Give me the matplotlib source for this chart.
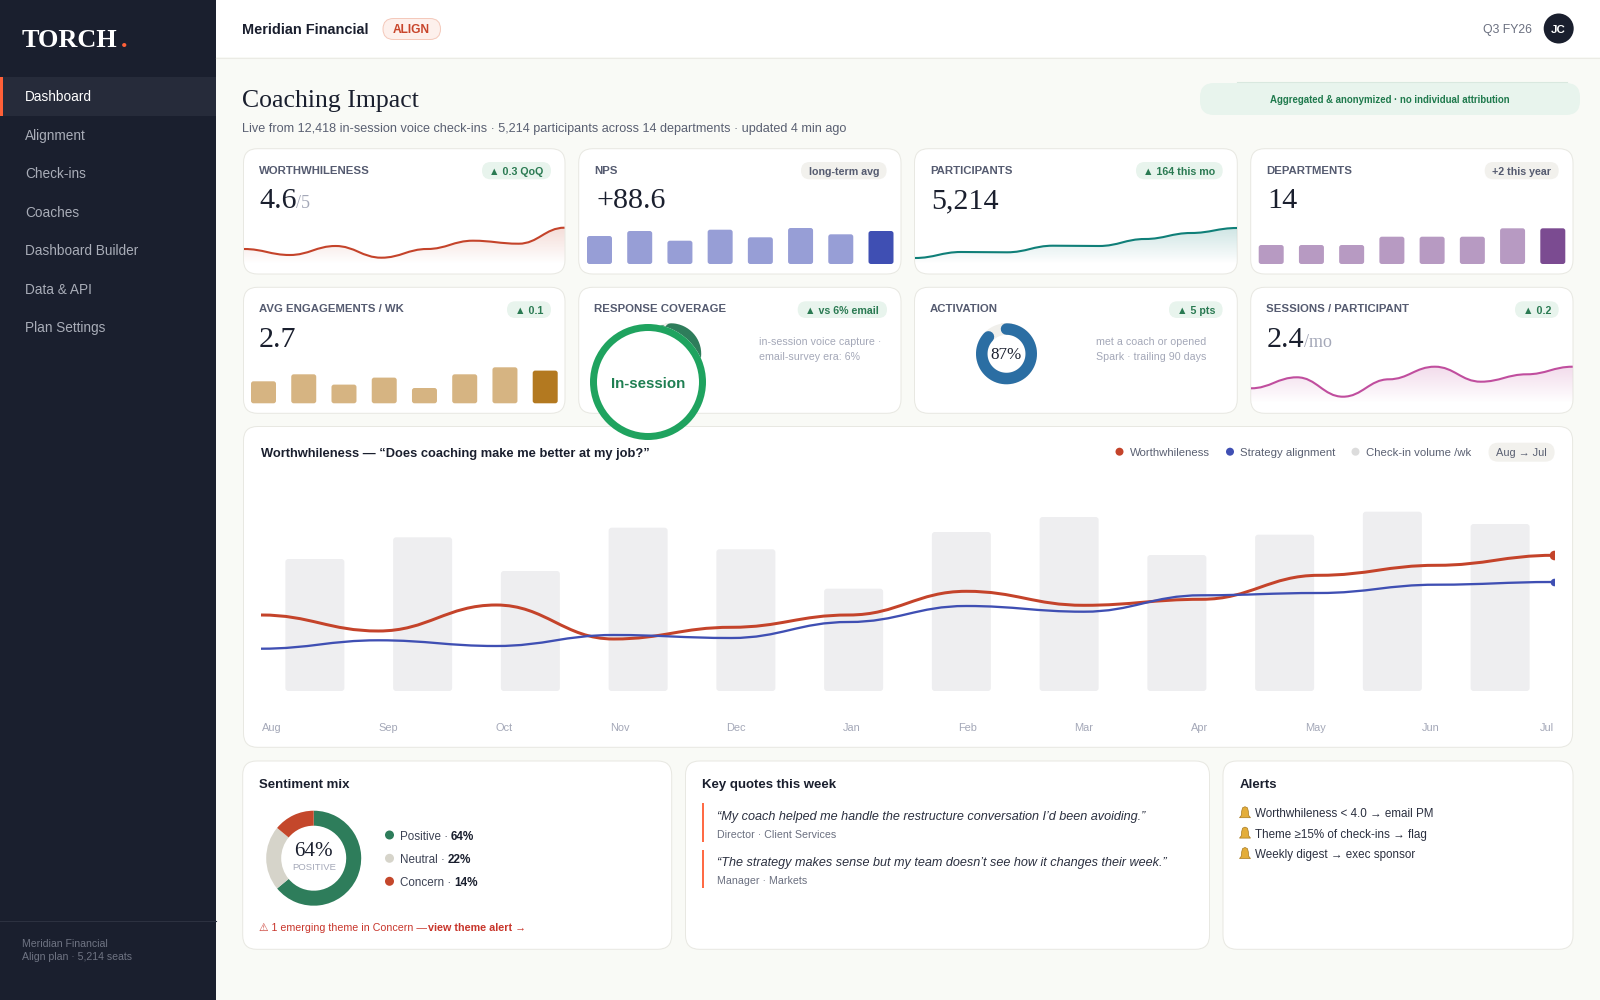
import numpy as np
import matplotlib
matplotlib.use("Agg")
import matplotlib.pyplot as plt
from matplotlib.patches import FancyBboxPatch, Circle, PathPatch, Rectangle
from matplotlib.path import Path
from matplotlib.colors import to_rgb
from matplotlib.transforms import Affine2D

plt.rcParams["text.hinting"] = "force_autohint"
plt.rcParams["text.hinting_factor"] = 8

# ---------- data ----------
NAV_ITEMS = ["Dashboard", "Alignment", "Check-ins", "Coaches", "Dashboard Builder", "Data & API", "Plan Settings"]
MONTHS = ["Aug", "Sep", "Oct", "Nov", "Dec", "Jan", "Feb", "Mar", "Apr", "May", "Jun", "Jul"]
VOLUME = [132, 153.7, 120, 163.3, 141.7, 102.3, 159, 174, 136, 156.3, 179.3, 167]
WORTH_TREND = [76, 60, 86, 52, 63.7, 76, 99.7, 85.7, 91.7, 115.7, 125.7, 135.7]
ALIGN_TREND = [42.3, 50.7, 45, 56, 53, 69, 85, 79.3, 95.7, 98, 106.3, 109]

SPARK_WORTH = [15, 9, 18, 6.3, 15, 23.3, 20.3, 36.3]
SPARK_PARTICIPANTS = [6, 12, 11.7, 18.3, 18, 25, 31, 36]
SPARK_SESSIONS = [15, 26, 6.6, 24, 36.6, 21.6, 29, 36.6]
BARS_NPS = [28, 33, 23.3, 34.3, 26.7, 36, 29.7, 33]
BARS_DEPTS = [19, 19, 19, 27.3, 27.3, 27.3, 35.7, 35.7]
BARS_ENGAGE = [22, 29, 18.7, 25.7, 15.3, 29, 36, 32.7]

COVERAGE = [94, 6]
ACTIVATION = [87, 13]
SENTIMENT_LABELS = ["Positive", "Neutral", "Concern"]
SENTIMENT = [64, 22, 14]
QUOTES = [("\u201cMy coach helped me handle the restructure conversation I\u2019d been avoiding.\u201d", "Director \u00b7 Client Services"),
          ("\u201cThe strategy makes sense but my team doesn\u2019t see how it changes their week.\u201d", "Manager \u00b7 Markets")]
ALERTS = ["Worthwhileness < 4.0 \u2192 email PM", "Theme \u226515% of check-ins \u2192 flag", "Weekly digest \u2192 exec sponsor"]

# ---------- style ----------
W, H = 1600, 1000
SANS = ["Liberation Sans", "DejaVu Sans"]
SERIF = ["Liberation Serif", "DejaVu Serif"]
INK = "#1a1f2e"; SLATE = "#555b70"; MUTED = "#6b7080"; FAINT = "#a4a8b8"
RED = "#c4432a"; BLUE = "#3f4fb3"; TEAL = "#0f7f78"; MAGENTA = "#c04e9e"; GREEN = "#2a7a52"
ACCENT = "#ff6038"; PILL_G = "#e8f4ed"; PILL_N = "#f2f1ed"; EDGE = "#e8e8e2"

fig = plt.figure(figsize=(16, 10), dpi=100, facecolor="#f9faf6")
cv = fig.add_axes([0, 0, 1, 1], zorder=0)
cv.set_xlim(0, W); cv.set_ylim(H, 0); cv.axis("off")
top = fig.add_axes([0, 0, 1, 1], zorder=8)
top.set_xlim(0, W); top.set_ylim(H, 0); top.axis("off"); top.patch.set_alpha(0)


def px_axes(x0, y0, x1, y1, z=2):
    ax = fig.add_axes([x0 / W, 1 - y1 / H, (x1 - x0) / W, (y1 - y0) / H], zorder=z)
    ax.axis("off"); ax.patch.set_alpha(0)
    return ax


def T(x, y, s, size, color=INK, weight="normal", ha="left", family=SANS, style="normal", ax=None, raise_=0.36):
    return (ax or cv).text(x, y + raise_ * size, s, fontsize=size * 0.72, color=color, fontweight=weight, ha=ha,
                           va="baseline", family=family, style=style)


def box(x0, y0, x1, y1, r, fc, ec="none", lw=1.0, ax=None, z=1):
    p = FancyBboxPatch((x0, y0), x1 - x0, y1 - y0, boxstyle=f"round,pad=0,rounding_size={r}", fc=fc, ec=ec,
                       lw=lw * 0.72, zorder=z)
    (ax or cv).add_patch(p)
    return p


def pill(x0, x1, y0, y1, s, good=True, size=10.6):
    box(x0, y0, x1, y1, (y1 - y0) / 2, PILL_G if good else PILL_N, z=2)
    T((x0 + x1) / 2, (y0 + y1) / 2 + 0.3, s, size, GREEN if good else SLATE, "bold", "center")


def smooth_path(xs, ys):
    """Cubic segments with level tangents at every reading."""
    verts = [(xs[0], ys[0])]; codes = [Path.MOVETO]
    for i in range(len(xs) - 1):
        k = (xs[i + 1] - xs[i]) * 0.42
        verts += [(xs[i] + k, ys[i]), (xs[i + 1] - k, ys[i + 1]), (xs[i + 1], ys[i + 1])]
        codes += [Path.CURVE4] * 3
    return verts, codes


def sparkline(x0, x1, base, values, color, alpha=0.20):
    ax = px_axes(x0, base - 44, x1, base)
    xs = np.arange(len(values))
    verts, codes = smooth_path(xs, values)
    area = Path(verts + [(xs[-1], 0), (xs[0], 0), (xs[0], values[0])],
                codes + [Path.LINETO, Path.LINETO, Path.CLOSEPOLY])
    rgb = to_rgb(color)
    grad = np.zeros((64, 2, 4)); grad[..., :3] = rgb
    grad[..., 3] = np.linspace(alpha, 0, 64)[:, None]
    im = ax.imshow(grad, extent=(xs[0], xs[-1], 0, 40), aspect="auto", origin="upper", zorder=1)
    im.set_clip_path(PathPatch(area, transform=ax.transData))
    ax.add_patch(PathPatch(Path(verts, codes), fc="none", ec=color, lw=1.5, capstyle="butt", zorder=2))
    ax.set_xlim(xs[0], xs[-1]); ax.set_ylim(0, 44)


def rounded_bars(ax, xs, hs, w, colors, r_px, x_per_px, y_per_px):
    for x, h, c in zip(xs, hs, colors):
        ax.add_patch(FancyBboxPatch((x - w / 2, 0), w, h, boxstyle=f"round,pad=0,rounding_size={r_px * x_per_px}",
                                    fc=c, ec="none", mutation_aspect=y_per_px / x_per_px, clip_on=False))


def mini_bars(x0, x1, base, values, light, dark):
    ax = px_axes(x0, base - 44, x1, base)
    n = len(values); width = x1 - x0
    pitch = (width - 25) / (n - 1)
    ax.set_xlim(-12.5 / pitch, n - 1 + 12.5 / pitch); ax.set_ylim(0, 44)
    rounded_bars(ax, np.arange(n), values, 25 / pitch, [light] * (n - 1) + [dark], 2.5, 1 / pitch, 1.0)


def arc_ring(cx, cy, r_outer, values, color, track, stroke, z=2):
    ax = px_axes(cx - r_outer - 4, cy - r_outer - 4, cx + r_outer + 4, cy + r_outer + 4, z=z)
    ax.set_xlim(-r_outer - 4, r_outer + 4); ax.set_ylim(-r_outer - 4, r_outer + 4)
    r = r_outer - stroke / 2
    th = np.linspace(0, 2 * np.pi, 240)
    ax.plot(r * np.sin(th), r * np.cos(th), color=track, lw=stroke * 0.72)
    th = np.linspace(0, 2 * np.pi * values[0] / sum(values), 240)
    ax.plot(r * np.sin(th), r * np.cos(th), color=color, lw=stroke * 0.72, solid_capstyle="round")
    return ax


# ---------- shell ----------
cv.add_patch(Rectangle((0, 0), 216, H, fc="#1a1f2e", ec="none", zorder=1))
cv.add_patch(Rectangle((216, 0), W - 216, 57, fc="white", ec="none", zorder=1))
cv.plot([216, W], [57.5, 57.5], color="#ebebe5", lw=0.8, zorder=2)
cv.add_patch(Rectangle((0, 77), 216, 38.6, fc="#262b3a", ec="none", zorder=2))
cv.add_patch(Rectangle((0, 77), 3, 38.6, fc=ACCENT, ec="none", zorder=3))
T(22, 38, "TORCH", 26.3, "#ffffff", "bold", family=SERIF, raise_=0.33)
T(120.5, 38, ".", 26.3, ACCENT, "bold", family=SERIF, raise_=0.33)
for i, item in enumerate(NAV_ITEMS):
    T(25, 96.5 + 38.5 * i, item, 13.6, "#ffffff" if i == 0 else "#a9adb8")
cv.plot([0, 215.5], [920.5, 920.5], color="#2c3140", lw=0.8, zorder=2)
T(22.5, 943.5, "Meridian Financial", 10.5, "#6f7483")
T(22.5, 956, "Align plan \u00b7 5,214 seats", 10.5, "#6f7483")

T(242.5, 29, "Meridian Financial", 14.5, INK, "bold")
box(383, 18.5, 440.5, 39.5, 10.5, "#fdf0ec", "#f4c9bb", 1, z=2)
T(411.7, 29, "ALIGN", 12, "#c8452b", "bold", "center")
T(1483, 29, "Q3 FY26", 12.3, MUTED)
cv.add_patch(Circle((1558.7, 28.5), 15, fc=INK, ec="none", zorder=2))
T(1558.7, 28.7, "JC", 11.5, "#ffffff", "bold", "center")

T(242.5, 99, "Coaching Impact", 25.8, INK, family=SERIF, raise_=0.30)
T(242.5, 127, "Live from 12,418 in-session voice check-ins \u00b7 5,214 participants across 14 departments \u00b7 updated 4 min ago",
  12.64, "#5a6072")
box(1200, 83, 1580, 115, 14, PILL_G, z=2)
cv.plot([1237, 1567], [82.3, 82.3], color="#d9e8df", lw=0.8, zorder=2)
T(1390, 99.7, "Aggregated & anonymized \u00b7 no individual attribution", 9.6, "#1f7a4d", "bold", "center")

# ---------- KPI cards ----------
COLS = [(243.5, 565), (578.7, 901), (914.5, 1237.3), (1250.7, 1573)]
ROWS = [(148.7, 274), (287.3, 413.3)]
for (y0, y1) in ROWS:
    for (x0, x1) in COLS:
        box(x0, y0, x1, y1, 14, "white", EDGE, 1)

LABELS = [("WORTHWHILENESS", 0, 0), ("NPS", 1, 0), ("PARTICIPANTS", 2, 0), ("DEPARTMENTS", 3, 0),
          ("AVG ENGAGEMENTS / WK", 0, 1), ("RESPONSE COVERAGE", 1, 1), ("ACTIVATION", 2, 1), ("SESSIONS / PARTICIPANT", 3, 1)]
for s, c, r in LABELS:
    T(COLS[c][0] + 15.7, 169.5 if r == 0 else 308.3, s, 11.4, SLATE, "bold")

for s, x, b in [("4.6", 259, 208.3), ("+88.6", 596, 208.3), ("5,214", 931, 208.3), ("14", 1267, 208.3),
                ("2.7", 259, 347), ("2.4", 1267, 347)]:
    cv.text(x, b, s, fontsize=30 * 0.72, color=INK, family=SERIF, va="baseline", zorder=3)
cv.text(296.5, 208.3, "/5", fontsize=18 * 0.72, color=FAINT, family=SERIF, va="baseline")
cv.text(1304, 347, "/mo", fontsize=18 * 0.72, color=FAINT, family=SERIF, va="baseline")

pill(482, 551, 162, 179.3, "\u25b2 0.3 QoQ")
pill(801, 886.6, 162, 179.3, "long-term avg", good=False)
pill(1136, 1222.7, 162, 179.3, "\u25b2 164 this mo")
pill(1484.7, 1558.7, 162, 179.3, "+2 this year", good=False)
pill(507, 551, 301.3, 318, "\u25b2 0.1")
pill(797.7, 887, 301.3, 318, "\u25b2 vs 6% email")
pill(1169, 1222.6, 301.3, 318, "\u25b2 5 pts")
pill(1515, 1558.7, 301.3, 318, "\u25b2 0.2")

sparkline(244, 564.5, 264, SPARK_WORTH, RED)
sparkline(915, 1237, 264, SPARK_PARTICIPANTS, TEAL, 0.22)
sparkline(1251, 1572.7, 403.3, SPARK_SESSIONS, MAGENTA, 0.22)
mini_bars(587, 893.5, 264, BARS_NPS, "#979ed6", "#3f4fb3")
mini_bars(1258.7, 1565.3, 264, BARS_DEPTS, "#b79ac2", "#7b4b91")
mini_bars(251, 557.7, 403.3, BARS_ENGAGE, "#d6b482", "#b37920")

arc_ring(670.7, 353.8, 30.5, COVERAGE, "#2e7d5b", "#f0efeb", 11.5)
arc_ring(1006.5, 353.8, 30.5, ACTIVATION, "#2b6ea3", "#f0efeb", 11.5)
T(1006.3, 354, "87%", 17, INK, ha="center", family=SERIF, ax=top, raise_=0.30)
T(759, 340.7, "in-session voice capture \u00b7", 10.6, FAINT)
T(759, 356, "email-survey era: 6%", 10.6, FAINT)
T(1096, 340.7, "met a coach or opened", 10.6, FAINT)
T(1096, 356, "Spark \u00b7 trailing 90 days", 10.6, FAINT)

# ---------- main chart ----------
box(243.5, 426.5, 1572.6, 747.3, 14, "white", EDGE, 1)
T(261, 452.7, "Worthwhileness \u2014 \u201cDoes coaching make me better at my job?\u201d", 12.95, INK, "bold")
for dx, tx, col, s in [(1119.5, 1130.3, RED, "Worthwhileness"), (1230, 1240.5, BLUE, "Strategy alignment"),
                       (1355.5, 1366, "#dcdcdc", "Check-in volume /wk")]:
    cv.add_patch(Circle((dx, 451.7), 4, fc=col, ec="none", zorder=2))
    T(tx, 452.3, s, 11.35, "#5a6072")
box(1488.5, 442.7, 1554.6, 461.7, 9.5, PILL_N, z=2)
T(1521.5, 452.5, "Aug \u2192 Jul", 11, "#5a6072", ha="center")

ax = px_axes(261, 471, 1554, 691)
n = len(MONTHS)
ax.set_xlim(0, n - 1); ax.set_ylim(0, 220)
band = (n - 1) / n
rounded_bars(ax, (np.arange(n) + 0.5) * band, VOLUME, 59 / 117.55, ["#eeeef0"] * n, 3, 1 / 117.55, 1.0)
for vals, col, lw, r in [(WORTH_TREND, RED, 3.0, 4.8), (ALIGN_TREND, BLUE, 2.3, 3.8)]:
    v, c = smooth_path(np.arange(n), vals)
    ax.add_patch(PathPatch(Path(v, c), fc="none", ec=col, lw=lw * 0.72, zorder=3, capstyle="butt"))
    ax.plot([n - 1], [vals[-1]], "o", ms=2 * r * 0.72, color=col, mew=0, zorder=4, clip_on=True)
for xc, m in zip(np.linspace(272, 1546.9, n), MONTHS):
    T(xc, 727.3, m, 11, FAINT, ha="center")

# ---------- bottom cards ----------
for x0, x1 in [(242.7, 671.7), (685.5, 1209.5), (1223, 1573)]:
    box(x0, 761, x1, 949.3, 14, "white", EDGE, 1)
T(259, 783, "Sentiment mix", 13.3, INK, "bold")
T(702, 783, "Key quotes this week", 13.3, INK, "bold")
T(1239.4, 783, "Alerts", 13.3, INK, "bold")

SENT_COLORS = ["#2e7d5b", "#d6d4ca", "#c4472b"]
ax = px_axes(313.7 - 50, 858.2 - 50, 313.7 + 50, 858.2 + 50)
ax.pie(SENTIMENT, colors=SENT_COLORS, startangle=90, counterclock=False, radius=47.5 / 50,
       wedgeprops=dict(width=15 / 50, linewidth=0))
ax.set_xlim(-1, 1); ax.set_ylim(-1, 1)
T(313.7, 849.3, "64%", 21, INK, ha="center", family=SERIF, raise_=0.30)
T(313.7, 866.7, "POSITIVE", 9.5, FAINT, ha="center")
for i, (lab, val, col) in enumerate(zip(SENTIMENT_LABELS, SENTIMENT, SENT_COLORS)):
    y = [835, 858.3, 881.3][i]
    cv.add_patch(Circle((389.5, y), 4.5, fc=col, ec="none", zorder=2))
    T(400.3, y + 0.5, f"{lab} \u00b7", 11.6, "#3c4254")
    T([450.5, 447.5, 454.3][i], y + 0.5, f"{val}%", 11.8, INK, "bold")
T(259, 927.3, "\u26a0 1 emerging theme in Concern \u2014", 10.6, "#c8352b")
T(428, 927.3, "view theme alert \u2192", 10.7, "#c8352b", "bold")

for i, (q, who) in enumerate(QUOTES):
    y0 = [803.3, 850][i]
    cv.add_patch(Rectangle((701.6, y0), 2.6, 38.4, fc="#ff6b45", ec="none", zorder=2))
    T(716.8, y0 + 11.7, q, 12.6, "#2b3040", style="italic")
    T(716.8, y0 + 30.5, who, 10.6, MUTED)

BELL = Path([(0, -6), (2.2, -5), (3, -2), (3.4, 2), (5, 4), (-5, 4), (-3.4, 2), (-3, -2), (-2.2, -5), (0, -6)],
            [Path.MOVETO] + [Path.LINETO] * 8 + [Path.CLOSEPOLY])
for i, s in enumerate(ALERTS):
    y = 813.3 + 20.4 * i
    b = BELL.transformed(Affine2D().scale(1.1).translate(1245, y))
    cv.add_patch(PathPatch(b, fc="#e3ad3a", ec="#a97a20", lw=0.5, zorder=2))
    T(1254.8, y, s, 11.6, "#2b3040")

# ---------- in-session overlay ----------
ring = px_axes(648 - 60, 382 - 60, 648 + 60, 382 + 60, z=7)
ring.pie([1], colors=["white"], radius=58 / 60, wedgeprops=dict(linewidth=0))
ring.pie([1], colors=["#1fa35f"], radius=58 / 60, wedgeprops=dict(width=7 / 60, linewidth=0))
ring.set_xlim(-1, 1); ring.set_ylim(-1, 1)
T(648, 383, "In-session", 15, "#1f7f52", "bold", "center", ax=top)

fig.savefig("out.png", dpi=100, facecolor=fig.get_facecolor())
